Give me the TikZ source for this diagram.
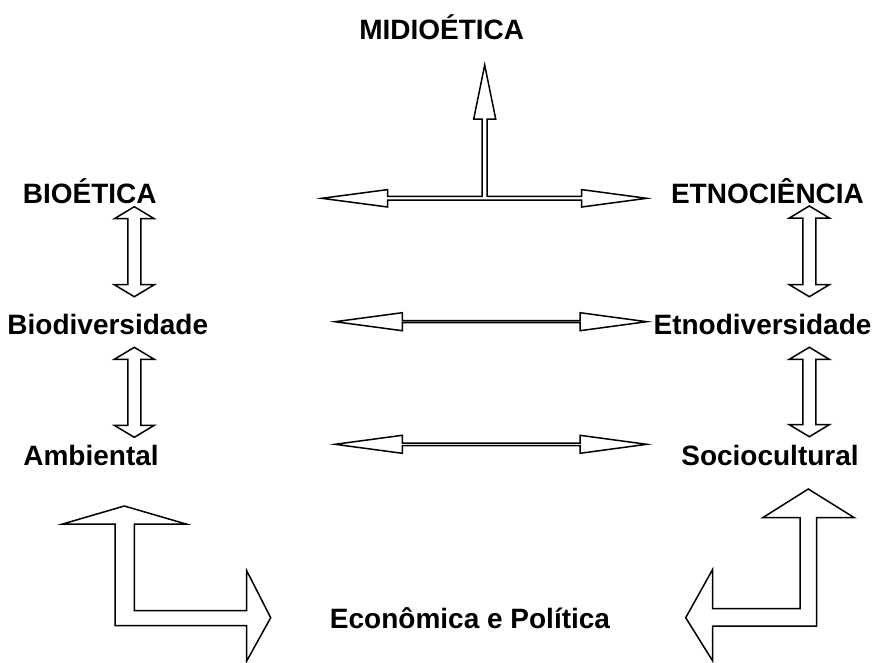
\documentclass[tikz,border=0pt]{standalone}
\usepackage{fontspec}
\setmainfont{Liberation Sans}

\tikzset{
  blockarrow/.style={draw=black, fill=white, line width=1.5pt, line join=miter},
  termo/.style={font=\bfseries\fontsize{28}{33}\selectfont, anchor=base, inner sep=0pt}
}

\begin{document}
\begin{tikzpicture}[x=1pt, y=-1pt]
            \useasboundingbox (0,0) rectangle (875,662);

            % Terms
            \node[termo] (midio) at (441.7,39.3) {MIDIOÉTICA};
            \node[termo] (bioe) at (89.7,203.3) {BIOÉTICA};
            \node[termo] (etnoc) at (767.5,203.3) {ETNOCIÊNCIA};
            \node[termo] (biodiv) at (107.8,334) {Biodiversidade};
            \node[termo] (etnodiv) at (762.5,334) {Etnodiversidade};
            \node[termo] (amb) at (91,465) {Ambiental};
            \node[termo] (socio) at (770,465) {Sociocultural};
            \node[termo] (econ) at (470,628) {Econômica e Política};

            % Vertical double arrows
            \foreach \x/\ya/\yb in {134.3/206.7/296.7, 134.3/347.3/437.3, 809.3/206/296.7, 809.3/347.3/436.7}
                \draw[blockarrow] (\x,\ya) -- (\x+20,\ya+12) -- (\x+6.5,\ya+12) -- (\x+6.5,\yb-12)
                    -- (\x+20,\yb-12) -- (\x,\yb) -- (\x-20,\yb-12) -- (\x-6.5,\yb-12)
                    -- (\x-6.5,\ya+12) -- (\x-20,\ya+12) -- cycle;

            % Thin horizontal double arrows
            \foreach \y/\h in {321.7/1.0, 444.3/1.2}
                \draw[blockarrow] (335,\y) -- (402.3,\y-9) -- (402.3,\y-\h) -- (580,\y-\h)
                    -- (580,\y-9) -- (646.7,\y) -- (580,\y+9) -- (580,\y+\h)
                    -- (402.3,\y+\h) -- (402.3,\y+9) -- cycle;

            % T-shaped arrow under MIDIOETICA
            \draw[blockarrow] (321.7,198.3) -- (387.7,189.6) -- (387.7,196.4) -- (482.2,196.4)
                -- (482.2,119) -- (473.7,119) -- (484.7,65) -- (495.7,119) -- (487.2,119)
                -- (487.2,196.4) -- (581.7,196.4) -- (581.7,189.6) -- (646.7,198.3)
                -- (581.7,207) -- (581.7,200.2) -- (387.7,200.2) -- (387.7,207) -- cycle;

            % L-shaped arrow, left
            \draw[blockarrow] (124.3,506) -- (186,524) -- (134.3,524) -- (134.3,610.7)
                -- (246.7,610.7) -- (246.7,570.7) -- (270.7,617.7) -- (246.7,661)
                -- (246.7,625.7) -- (115,625.7) -- (115,524) -- (62.7,524) -- cycle;

            % L-shaped arrow, right
            \draw[blockarrow] (808.3,489) -- (854.3,517.7) -- (816.7,517.7) -- (816.7,626)
                -- (712.7,626) -- (712.7,661) -- (685.7,617.7) -- (712.7,569.3)
                -- (712.7,608.7) -- (800,608.7) -- (800,517.7) -- (762.7,517.7) -- cycle;
\end{tikzpicture}
\end{document}
